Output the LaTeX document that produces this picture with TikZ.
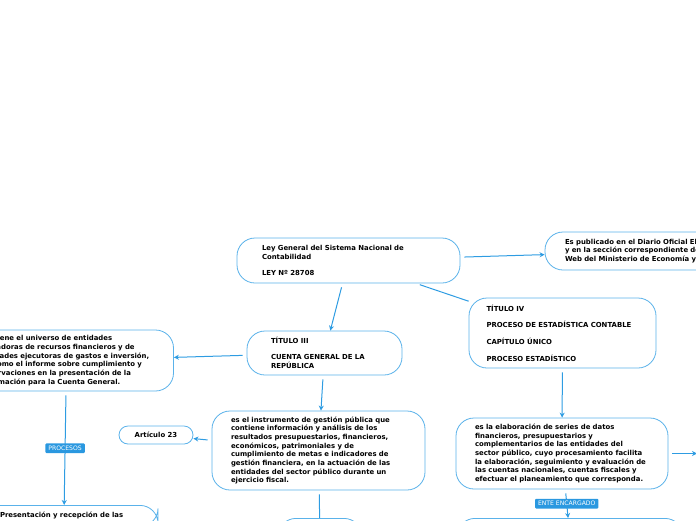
\documentclass[tikz,border=0pt]{standalone}
\usepackage{fontspec}
\setmainfont{DejaVu Sans}
\usetikzlibrary{arrows.meta}
\definecolor{bordeazul}{HTML}{5AB2EA}
\definecolor{lineaazul}{HTML}{2E9CE2}
\definecolor{etiqazul}{HTML}{2A98E0}
\tikzset{
  caja/.style={draw=bordeazul, line width=0.8pt, rounded corners=18pt, fill=white, align=left,
    font=\fontsize{6.9}{8.7}\selectfont\bfseries},
  etiq/.style={fill=etiqazul, text=white, rounded corners=1pt, inner xsep=3pt, inner ysep=2.5pt,
    font=\fontsize{6.1}{6.5}\selectfont},
  linea/.style={draw=lineaazul, line width=1pt, shorten <=4pt},
  flecha/.style={linea, ->},
}
\begin{document}
\begin{tikzpicture}[x=1pt, y=-1pt, >={Stealth[length=5pt,width=5pt]}]
\useasboundingbox (0,0) rectangle (696,520);

% Ley central
\node[caja, minimum height=45pt, text width=173pt, inner xsep=25pt] (ley) at (348.5,260.5)
  {Ley General del Sistema Nacional de\\Contabilidad\\[7.5pt]LEY Nº 28708};
\node[caja, minimum height=38pt, text width=200pt, inner xsep=20pt] (publicado) at (665,251)
  {Es publicado en el Diario Oficial El Peruano\\y en la sección correspondiente del Portal\\Web del Ministerio de Economía y Finanzas.};

% Titulos
\node[caja, minimum height=44pt, text width=107pt, inner xsep=24pt] (titulotres) at (324.5,353)
  {TÍTULO III\\[7.5pt]CUENTA GENERAL DE LA\\REPÚBLICA};
\node[caja, minimum height=70pt, text width=152pt, inner xsep=17.5pt] (titulocuatro) at (562.5,333)
  {TÍTULO IV\\[8pt]PROCESO DE ESTADÍSTICA CONTABLE\\[8pt]CAPÍTULO ÚNICO\\[8pt]PROCESO ESTADÍSTICO};

% Cuenta General
\node[caja, minimum height=61pt, text width=174pt, inner xsep=20pt] (contiene) at (66.5,360.5)
  {Contiene el universo de entidades\\captadoras de recursos financieros y de\\entidades ejecutoras de gastos e inversión,\\así como el informe sobre cumplimiento y\\observaciones en la presentación de la\\información para la Cuenta General.};
\node[caja, minimum height=79pt, text width=175pt, inner xsep=19pt] (instrumento) at (318.5,450.5)
  {es el instrumento de gestión pública que\\contiene información y análisis de los\\resultados presupuestarios, financieros,\\económicos, patrimoniales y de\\cumplimiento de metas e indicadores de\\gestión financiera, en la actuación de las\\entidades del sector público durante un\\ejercicio fiscal.};
\node[caja, rounded corners=9pt, align=center, minimum height=18pt, minimum width=74pt] (articulo) at (156,435)
  {Artículo 23};

% Proceso estadistico
\node[caja, minimum height=71pt, text width=174pt, inner xsep=19pt] (elaboracion) at (562,453.5)
  {es la elaboración de series de datos\\financieros, presupuestarios y\\complementarios de las entidades del\\sector público, cuyo procesamiento facilita\\la elaboración, seguimiento y evaluación de\\las cuentas nacionales, cuentas fiscales y\\efectuar el planeamiento que corresponda.};

% Nodos de abajo
\node[caja, anchor=north, text width=128pt, inner xsep=30pt, inner ysep=7pt] (presentacion) at (64,505)
  {Presentación y recepción de las};
\node[caja, anchor=north, minimum width=84pt, minimum height=40pt] (abajocentro) at (320,518) {};
\node[caja, anchor=north, minimum width=226pt, minimum height=40pt] (abajoderecha) at (570,518) {};
\coordinate (derecha) at (697,453.5);

% Conectores
\draw[flecha] (ley) -- (publicado);
\draw[flecha] (ley) -- (titulotres);
\draw[linea] (ley) -- (titulocuatro);
\draw[flecha] (titulotres) -- (contiene);
\draw[flecha] (titulotres) -- (instrumento);
\draw[flecha] (instrumento) -- (articulo);
\draw[linea] (instrumento) -- (abajocentro);
\draw[flecha] (titulocuatro) -- (elaboracion);
\draw[flecha] (elaboracion) -- (derecha);
\draw[flecha] (contiene) -- node[etiq] {PROCESOS} (presentacion);
\draw[flecha] (elaboracion) -- node[etiq] {ENTE ENCARGADO} (abajoderecha);
\end{tikzpicture}
\end{document}
